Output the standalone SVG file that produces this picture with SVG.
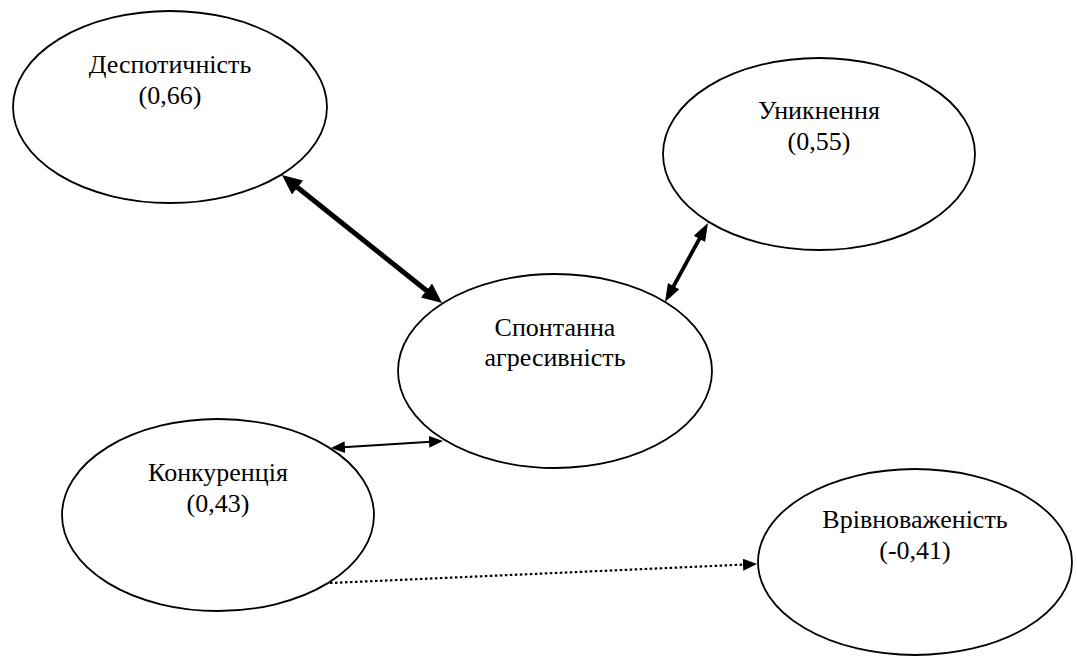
<svg xmlns="http://www.w3.org/2000/svg" width="1077" height="656" viewBox="0 0 1077 656">
<style>
.node ellipse{fill:#fff;stroke:#000;stroke-width:1.8}
.node text{font-family:"Liberation Serif","Times New Roman",serif;font-size:26px;fill:#000;text-anchor:middle}
.conn line{stroke:#000;fill:none}
</style>
<defs>
<marker id="mThick" viewBox="0 0 20 18" markerWidth="20" markerHeight="18" refX="12" refY="9" markerUnits="userSpaceOnUse" orient="auto-start-reverse"><path d="M0,0 L20,9 L0,18 z" fill="#000"/></marker>
<marker id="mMed" viewBox="0 0 18 13" markerWidth="18" markerHeight="13" refX="12" refY="6.5" markerUnits="userSpaceOnUse" orient="auto-start-reverse"><path d="M0,0 L18,6.5 L0,13 z" fill="#000"/></marker>
<marker id="mThin" viewBox="0 0 14 12" markerWidth="14" markerHeight="12" refX="10" refY="6" markerUnits="userSpaceOnUse" orient="auto-start-reverse"><path d="M0,0 L14,6 L0,12 z" fill="#000"/></marker>
</defs>
<rect width="1077" height="656" fill="#fff"/>
<g id="despot" class="node"><ellipse cx="170" cy="107" rx="157" ry="96"/><text x="170" y="73">Деспотичність</text><text x="170" y="104">(0,66)</text></g>
<g id="unik" class="node"><ellipse cx="819" cy="154" rx="156" ry="96"/><text x="819" y="119">Уникнення</text><text x="819" y="150">(0,55)</text></g>
<g id="spont" class="node"><ellipse cx="555" cy="371" rx="157" ry="97"/><text x="555" y="336">Спонтанна</text><text x="555" y="366">агресивність</text></g>
<g id="konk" class="node"><ellipse cx="218" cy="515" rx="156" ry="96"/><text x="218" y="481">Конкуренція</text><text x="218" y="512">(0,43)</text></g>
<g id="vriv" class="node"><ellipse cx="915" cy="562" rx="157" ry="93"/><text x="915" y="528">Врівноваженість</text><text x="915" y="559">(-0,41)</text></g>
<g id="connectors" class="conn">
<line x1="288.2" y1="180" x2="435.8" y2="298" stroke-width="5" marker-start="url(#mThick)" marker-end="url(#mThick)"/>
<line x1="705.1" y1="228.3" x2="667.9" y2="296.7" stroke-width="3.8" marker-start="url(#mMed)" marker-end="url(#mMed)"/>
<line x1="335" y1="447.75" x2="439" y2="441.25" stroke-width="2.2" marker-start="url(#mThin)" marker-end="url(#mThin)"/>
<line x1="330" y1="583" x2="753" y2="564.2" stroke-width="2.2" stroke-dasharray="2.5 2.5" marker-end="url(#mThin)"/>
</g>
</svg>
